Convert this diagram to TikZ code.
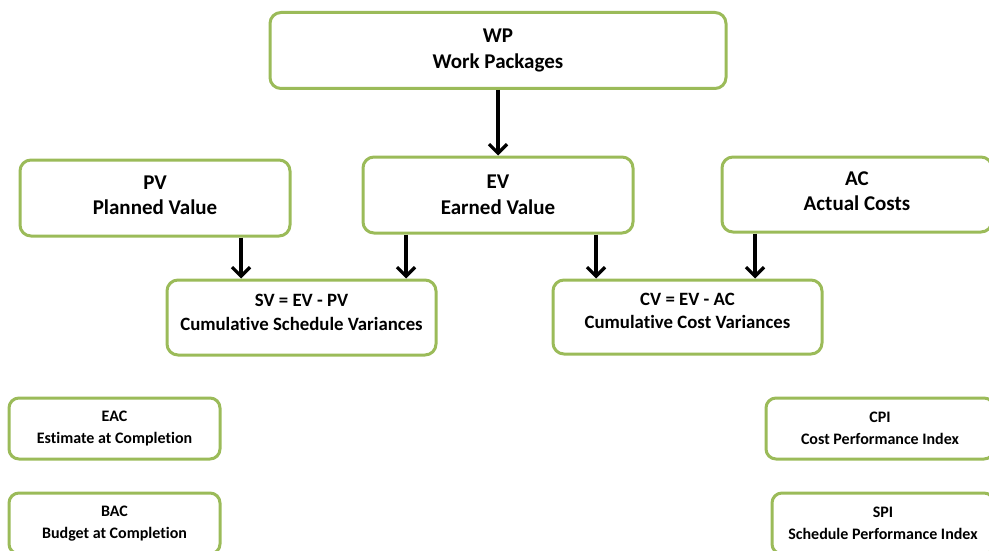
\documentclass[tikz,border=0pt]{standalone}
\usepackage{fontspec}
\setmainfont[Ligatures=CommonOff]{Carlito}
\usetikzlibrary{arrows.meta}
\definecolor{boxgreen}{HTML}{9BBB59}
\tikzset{
  box/.style={draw=boxgreen, line width=3pt, rounded corners=11pt, fill=white,
    align=center, inner sep=0pt, font=\bfseries\fontsize{21}{25.5}\selectfont},
  smallbox/.style={box, rounded corners=10pt, font=\bfseries\fontsize{16}{22}\selectfont},
  midbox/.style={box, font=\bfseries\fontsize{18.8}{23.5}\selectfont},
  arr/.style={line width=3.2pt, -{Straight Barb[length=9pt,width=18pt,line width=3.2pt]}}
}
\begin{document}
\begin{tikzpicture}[x=1pt,y=-1pt]
\useasboundingbox (0,0) rectangle (989,551);
\begin{scope}
\clip (0,0) rectangle (989,551);
\node[box, minimum width=456pt, minimum height=76pt] (wp) at (498,50.5) {WP\\Work Packages};
\node[box, minimum width=270pt, minimum height=76pt, text depth=6pt] (pv) at (155,198) {PV\\Planned Value};
\node[box, minimum width=270pt, minimum height=76pt] (ev) at (498,195) {EV\\Earned Value};
\node[box, minimum width=270pt, minimum height=75pt, text depth=7pt] (ac) at (857,194.5) {AC\\Actual Costs};
\node[midbox, minimum width=269pt, minimum height=75pt, text depth=10pt] (sv) at (301.5,317.5) {SV = EV - PV\\Cumulative Schedule Variances};
\node[midbox, minimum width=269pt, minimum height=74pt, text depth=12pt] (cv) at (687.5,317) {CV = EV - AC\\Cumulative Cost Variances};
\node[smallbox, minimum width=211pt, minimum height=61pt] (eac) at (114.5,428.5) {EAC\\Estimate at Completion};
\node[smallbox, minimum width=211pt, minimum height=61pt] (bac) at (114.5,523.5) {BAC\\Budget at Completion};
\node[smallbox, minimum width=228pt, minimum height=61pt] (cpi) at (880,428.5) {CPI\\Cost Performance Index};
\node[smallbox, minimum width=222pt, minimum height=61pt] (spi) at (883,523.5) {SPI\\Schedule Performance Index};
\end{scope}
\draw[arr] (wp.south) -- (ev.north);
\draw[arr] (pv.south -| 241,0) -- (sv.north -| 241,0);
\draw[arr] (ev.south -| 406,0) -- (sv.north -| 406,0);
\draw[arr] (ev.south -| 596,0) -- (cv.north -| 596,0);
\draw[arr] (ac.south -| 755,0) -- (cv.north -| 755,0);
\end{tikzpicture}
\end{document}
